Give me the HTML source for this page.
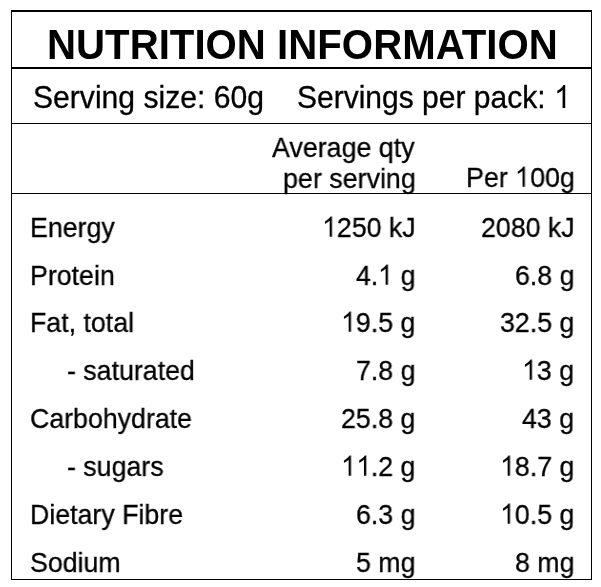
<!DOCTYPE html>
<html><head><meta charset="utf-8"><style>
html,body{margin:0;padding:0;background:#fff;width:601px;height:587px;overflow:hidden;position:relative}
.t{position:absolute;font-family:"Liberation Sans",sans-serif;white-space:nowrap;line-height:1;transform-origin:0 0;color:#000;will-change:transform;-webkit-text-stroke:0.3px #000}
.h{position:absolute;background:#000}
.o{position:relative;color:transparent;-webkit-text-stroke:0 transparent}.o svg{position:absolute;left:0;top:0;width:0.5562em;height:1.1172em;fill:#000}
</style></head><body>
<div class="h" style="left:11px;top:10px;width:581px;height:2px"></div>
<div class="h" style="left:11px;top:10px;width:1px;height:570px"></div>
<div class="h" style="left:591px;top:10px;width:1px;height:570px"></div>
<div class="h" style="left:11px;top:579px;width:581px;height:1px"></div>
<div class="h" style="left:11px;top:67px;width:581px;height:2px"></div>
<div class="h" style="left:11px;top:123px;width:581px;height:1px"></div>
<div class="h" style="left:11px;top:193px;width:581px;height:1px"></div>
<div class="t" style="left:46.81px;top:24.00px;font-size:40px;font-weight:700;-webkit-text-stroke:0;transform:scale(1.0053,1.0400)">NUTRITION INFORMATION</div>
<div class="t" style="left:33.39px;top:80.50px;font-size:30px;font-weight:400;transform:scale(1.0039,1.0700)">Serving size: 60g</div>
<div class="t" style="left:296.69px;top:80.70px;font-size:30px;font-weight:400;transform:scale(1.0002,1.0700)">Servings per pack: <span class="o">1<svg viewBox="0 -1854 1139 2288" preserveAspectRatio="none"><path d="M763,0L583,0L583,-1147Q518,-1085 412,-1022Q306,-959 222,-928L222,-1102Q373,-1173 486,-1274Q599,-1375 646,-1466L763,-1466Z"/></svg></span></div>
<div class="t" style="left:272.33px;top:132.90px;font-size:28px;font-weight:400;transform:scale(0.9572,1.0200)">Average qty</div>
<div class="t" style="left:283.22px;top:163.60px;font-size:28px;font-weight:400;transform:scale(0.9586,1.0200)">per serving</div>
<div class="t" style="left:465.75px;top:162.90px;font-size:28px;font-weight:400;transform:scale(0.9580,1.0200)">Per <span class="o">1<svg viewBox="0 -1854 1139 2288" preserveAspectRatio="none"><path d="M763,0L583,0L583,-1147Q518,-1085 412,-1022Q306,-959 222,-928L222,-1102Q373,-1173 486,-1274Q599,-1375 646,-1466L763,-1466Z"/></svg></span>00g</div>
<div class="t" style="left:29.84px;top:213.06px;font-size:28px;font-weight:400;transform:scale(0.9550,1.0200)">Energy</div>
<div class="t" style="left:321.82px;top:213.06px;font-size:28px;font-weight:400;transform:scale(0.9550,1.0200)"><span class="o">1<svg viewBox="0 -1854 1139 2288" preserveAspectRatio="none"><path d="M763,0L583,0L583,-1147Q518,-1085 412,-1022Q306,-959 222,-928L222,-1102Q373,-1173 486,-1274Q599,-1375 646,-1466L763,-1466Z"/></svg></span>250 kJ</div>
<div class="t" style="left:480.82px;top:213.06px;font-size:28px;font-weight:400;transform:scale(0.9550,1.0200)">2080 kJ</div>
<div class="t" style="left:29.84px;top:261.06px;font-size:28px;font-weight:400;transform:scale(0.9550,1.0200)">Protein</div>
<div class="t" style="left:355.75px;top:261.06px;font-size:28px;font-weight:400;transform:scale(0.9550,1.0200)">4.<span class="o">1<svg viewBox="0 -1854 1139 2288" preserveAspectRatio="none"><path d="M763,0L583,0L583,-1147Q518,-1085 412,-1022Q306,-959 222,-928L222,-1102Q373,-1173 486,-1274Q599,-1375 646,-1466L763,-1466Z"/></svg></span> g</div>
<div class="t" style="left:514.75px;top:261.06px;font-size:28px;font-weight:400;transform:scale(0.9550,1.0200)">6.8 g</div>
<div class="t" style="left:29.84px;top:307.94px;font-size:28px;font-weight:400;transform:scale(0.9550,1.0200)">Fat, total</div>
<div class="t" style="left:340.90px;top:307.94px;font-size:28px;font-weight:400;transform:scale(0.9550,1.0200)"><span class="o">1<svg viewBox="0 -1854 1139 2288" preserveAspectRatio="none"><path d="M763,0L583,0L583,-1147Q518,-1085 412,-1022Q306,-959 222,-928L222,-1102Q373,-1173 486,-1274Q599,-1375 646,-1466L763,-1466Z"/></svg></span>9.5 g</div>
<div class="t" style="left:499.90px;top:307.94px;font-size:28px;font-weight:400;transform:scale(0.9550,1.0200)">32.5 g</div>
<div class="t" style="left:67.25px;top:355.55px;font-size:28px;font-weight:400;transform:scale(0.9550,1.0200)">- saturated</div>
<div class="t" style="left:355.75px;top:355.55px;font-size:28px;font-weight:400;transform:scale(0.9550,1.0200)">7.8 g</div>
<div class="t" style="left:522.06px;top:355.55px;font-size:28px;font-weight:400;transform:scale(0.9550,1.0200)"><span class="o">1<svg viewBox="0 -1854 1139 2288" preserveAspectRatio="none"><path d="M763,0L583,0L583,-1147Q518,-1085 412,-1022Q306,-959 222,-928L222,-1102Q373,-1173 486,-1274Q599,-1375 646,-1466L763,-1466Z"/></svg></span>3 g</div>
<div class="t" style="left:29.84px;top:403.70px;font-size:28px;font-weight:400;transform:scale(0.9550,1.0200)">Carbohydrate</div>
<div class="t" style="left:340.90px;top:403.70px;font-size:28px;font-weight:400;transform:scale(0.9550,1.0200)">25.8 g</div>
<div class="t" style="left:522.06px;top:403.70px;font-size:28px;font-weight:400;transform:scale(0.9550,1.0200)">43 g</div>
<div class="t" style="left:67.25px;top:451.50px;font-size:28px;font-weight:400;transform:scale(0.9550,1.0200)">- sugars</div>
<div class="t" style="left:340.90px;top:451.50px;font-size:28px;font-weight:400;transform:scale(0.9550,1.0200)"><span class="o">1<svg viewBox="0 -1854 1139 2288" preserveAspectRatio="none"><path d="M763,0L583,0L583,-1147Q518,-1085 412,-1022Q306,-959 222,-928L222,-1102Q373,-1173 486,-1274Q599,-1375 646,-1466L763,-1466Z"/></svg></span><span class="o">1<svg viewBox="0 -1854 1139 2288" preserveAspectRatio="none"><path d="M763,0L583,0L583,-1147Q518,-1085 412,-1022Q306,-959 222,-928L222,-1102Q373,-1173 486,-1274Q599,-1375 646,-1466L763,-1466Z"/></svg></span>.2 g</div>
<div class="t" style="left:499.90px;top:451.50px;font-size:28px;font-weight:400;transform:scale(0.9550,1.0200)"><span class="o">1<svg viewBox="0 -1854 1139 2288" preserveAspectRatio="none"><path d="M763,0L583,0L583,-1147Q518,-1085 412,-1022Q306,-959 222,-928L222,-1102Q373,-1173 486,-1274Q599,-1375 646,-1466L763,-1466Z"/></svg></span>8.7 g</div>
<div class="t" style="left:29.84px;top:499.80px;font-size:28px;font-weight:400;transform:scale(0.9550,1.0200)">Dietary Fibre</div>
<div class="t" style="left:355.75px;top:499.80px;font-size:28px;font-weight:400;transform:scale(0.9550,1.0200)">6.3 g</div>
<div class="t" style="left:499.90px;top:499.80px;font-size:28px;font-weight:400;transform:scale(0.9550,1.0200)"><span class="o">1<svg viewBox="0 -1854 1139 2288" preserveAspectRatio="none"><path d="M763,0L583,0L583,-1147Q518,-1085 412,-1022Q306,-959 222,-928L222,-1102Q373,-1173 486,-1274Q599,-1375 646,-1466L763,-1466Z"/></svg></span>0.5 g</div>
<div class="t" style="left:29.84px;top:547.60px;font-size:28px;font-weight:400;transform:scale(0.9550,1.0200)">Sodium</div>
<div class="t" style="left:355.75px;top:547.60px;font-size:28px;font-weight:400;transform:scale(0.9550,1.0200)">5 mg</div>
<div class="t" style="left:514.75px;top:547.60px;font-size:28px;font-weight:400;transform:scale(0.9550,1.0200)">8 mg</div>
</body></html>
